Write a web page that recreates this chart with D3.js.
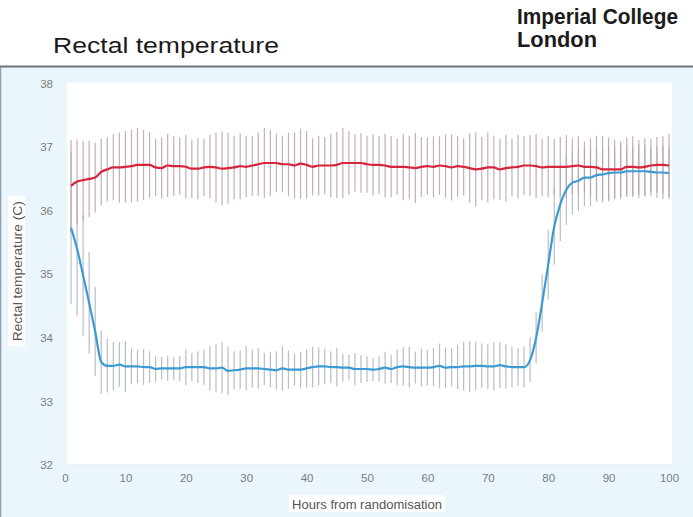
<!DOCTYPE html>
<html>
<head>
<meta charset="utf-8">
<script src="https://cdn.jsdelivr.net/npm/d3@7"></script>
<style>
  html, body { margin: 0; padding: 0; background: #fff; }
  svg { display: block; font-family: "Liberation Sans", Arial, sans-serif; }
</style>
</head>
<body>
<div id="chart"></div>
<script>
// hours after randomisation (one reading per hour)
const hours = d3.range(1, 101);

// normothermia group (red), mean rectal temperature
const normoMean = [
  36.39, 36.46, 36.48, 36.50, 36.52, 36.61, 36.65, 36.68, 36.68, 36.69,
  36.70, 36.72, 36.72, 36.72, 36.68, 36.67, 36.71, 36.70, 36.70, 36.69,
  36.66, 36.66, 36.68, 36.69, 36.68, 36.66, 36.67, 36.68, 36.70, 36.69,
  36.71, 36.73, 36.75, 36.75, 36.75, 36.73, 36.73, 36.71, 36.74, 36.72,
  36.69, 36.71, 36.71, 36.71, 36.72, 36.75, 36.75, 36.75, 36.75, 36.73,
  36.72, 36.72, 36.71, 36.69, 36.69, 36.69, 36.68, 36.67, 36.69, 36.70,
  36.69, 36.71, 36.70, 36.68, 36.70, 36.69, 36.67, 36.65, 36.66, 36.68,
  36.68, 36.65, 36.67, 36.68, 36.69, 36.71, 36.71, 36.70, 36.68, 36.69,
  36.69, 36.69, 36.69, 36.70, 36.71, 36.69, 36.69, 36.68, 36.65, 36.65,
  36.65, 36.65, 36.69, 36.69, 36.68, 36.69, 36.71, 36.72, 36.72, 36.71
];
const normoErr = [
  0.72, 0.66, 0.62, 0.60, 0.55, 0.52, 0.50, 0.52, 0.55, 0.56,
  0.57, 0.58, 0.55, 0.52, 0.45, 0.48, 0.50, 0.47, 0.45, 0.50,
  0.46, 0.48, 0.45, 0.50, 0.55, 0.58, 0.56, 0.50, 0.52, 0.48,
  0.47, 0.50, 0.55, 0.52, 0.46, 0.44, 0.50, 0.52, 0.55, 0.53,
  0.45, 0.47, 0.45, 0.50, 0.52, 0.55, 0.50, 0.45, 0.47, 0.45,
  0.48, 0.46, 0.50, 0.48, 0.44, 0.52, 0.50, 0.55, 0.47, 0.45,
  0.48, 0.46, 0.50, 0.52, 0.48, 0.45, 0.55, 0.58, 0.50, 0.55,
  0.50, 0.48, 0.52, 0.45, 0.50, 0.46, 0.48, 0.50, 0.45, 0.48,
  0.44, 0.47, 0.50, 0.44, 0.46, 0.40, 0.45, 0.50, 0.52, 0.50,
  0.47, 0.44, 0.46, 0.48, 0.43, 0.45, 0.42, 0.44, 0.45, 0.50
];

// hypothermia group (blue)
const hypoMean = [
  35.73, 35.40, 34.98, 34.55, 34.10, 33.62, 33.56, 33.56, 33.58, 33.55,
  33.55, 33.55, 33.54, 33.54, 33.51, 33.52, 33.52, 33.52, 33.52, 33.54,
  33.54, 33.54, 33.54, 33.52, 33.52, 33.53, 33.48, 33.49, 33.50, 33.52,
  33.52, 33.52, 33.51, 33.50, 33.49, 33.52, 33.50, 33.50, 33.50, 33.52,
  33.54, 33.55, 33.55, 33.54, 33.54, 33.53, 33.53, 33.51, 33.51, 33.51,
  33.50, 33.51, 33.53, 33.51, 33.54, 33.55, 33.54, 33.53, 33.53, 33.53,
  33.54, 33.56, 33.53, 33.54, 33.54, 33.55, 33.55, 33.56, 33.56, 33.55,
  33.55, 33.57, 33.55, 33.54, 33.54, 33.54, 33.65, 34.00, 34.55, 35.15,
  35.75, 36.10, 36.33, 36.44, 36.47, 36.52, 36.52, 36.56, 36.57, 36.59,
  36.60, 36.60, 36.62, 36.62, 36.62, 36.62, 36.61, 36.60, 36.60, 36.59
];
const hypoErr = [
  1.20, 1.05, 0.95, 0.80, 0.70, 0.50, 0.42, 0.38, 0.35, 0.40,
  0.28, 0.26, 0.28, 0.25, 0.20, 0.18, 0.20, 0.18, 0.20, 0.28,
  0.22, 0.25, 0.28, 0.35, 0.38, 0.40, 0.38, 0.30, 0.30, 0.35,
  0.30, 0.32, 0.25, 0.28, 0.30, 0.35, 0.30, 0.25, 0.28, 0.30,
  0.32, 0.30, 0.28, 0.25, 0.30, 0.22, 0.20, 0.25, 0.22, 0.20,
  0.18, 0.20, 0.25, 0.22, 0.28, 0.30, 0.32, 0.25, 0.30, 0.28,
  0.30, 0.35, 0.32, 0.30, 0.35, 0.38, 0.40, 0.38, 0.35, 0.35,
  0.38, 0.36, 0.35, 0.32, 0.30, 0.32, 0.35, 0.40, 0.45, 0.55,
  0.60, 0.58, 0.55, 0.50, 0.48, 0.45, 0.45, 0.42, 0.40, 0.42,
  0.40, 0.42, 0.40, 0.38, 0.42, 0.40, 0.38, 0.40, 0.42, 0.40
];

const xTicks = [0, 10, 20, 30, 40, 50, 60, 70, 80, 90, 100];
const yTicks = [32, 33, 34, 35, 36, 37, 38];

const W = 693, H = 517;

const svg = d3.select('#chart')
  .append('svg')
  .attr('width', W)
  .attr('height', H);

// page: white header, light blue slide body
svg.append('rect').attr('width', W).attr('height', H).attr('fill', '#eaf5fc');
svg.append('rect').attr('width', W).attr('height', 66).attr('fill', '#fff');
svg.append('line')
  .attr('x1', 0).attr('x2', W).attr('y1', 66.5).attr('y2', 66.5)
  .attr('stroke', '#6f7378').attr('stroke-width', 2);
svg.append('line')
  .attr('x1', 0.5).attr('x2', 0.5).attr('y1', 67).attr('y2', H)
  .attr('stroke', '#8aa0b0').attr('stroke-width', 1.5);

svg.append('text')
  .attr('x', 53).attr('y', 53)
  .attr('font-size', 22.5)
  .attr('fill', '#1a1a1a')
  .attr('textLength', 226)
  .attr('lengthAdjust', 'spacingAndGlyphs')
  .text('Rectal temperature');

// logo wordmark
svg.append('text')
  .attr('x', 517).attr('y', 23.5)
  .attr('font-size', 22)
  .attr('font-weight', 'bold')
  .attr('fill', '#1c1c1c')
  .attr('textLength', 161)
  .attr('lengthAdjust', 'spacingAndGlyphs')
  .text('Imperial College');
svg.append('text')
  .attr('x', 517).attr('y', 46.5)
  .attr('font-size', 22)
  .attr('font-weight', 'bold')
  .attr('fill', '#1c1c1c')
  .attr('textLength', 80)
  .attr('lengthAdjust', 'spacingAndGlyphs')
  .text('London');

const x = d3.scaleLinear().domain([0, 100]).range([65, 669]);
const y = d3.scaleLinear().domain([32, 38]).range([465, 83.5]);

// white plot area
svg.append('rect')
  .attr('x', x(0) + 2).attr('y', y(38) - 1)
  .attr('width', x(100) - x(0) + 1).attr('height', y(32) - y(38) + 1)
  .attr('fill', '#fff');

svg.append('line')
  .attr('x1', x(0) + 2).attr('x2', x(100) + 3)
  .attr('y1', y(32)).attr('y2', y(32))
  .attr('stroke', '#dfe8ee');

// axes
const xAxis = svg.append('g')
  .attr('transform', `translate(0,${y(32) + 9})`)
  .call(d3.axisBottom(x).tickValues(xTicks).tickSize(0).tickPadding(0).tickFormat(d3.format('d')));
const yAxis = svg.append('g')
  .attr('transform', `translate(${x(0) - 12},0)`)
  .call(d3.axisLeft(y).tickValues(yTicks).tickSize(0).tickPadding(0).tickFormat(d3.format('d')));
[xAxis, yAxis].forEach(g => {
  g.select('.domain').remove();
  g.selectAll('text')
    .attr('fill', '#7a7d80')
    .attr('font-size', 11.5)
    .attr('font-family', '"Liberation Sans", Arial, sans-serif');
});

// axis titles with white backing boxes
const xTitle = svg.append('g').attr('transform', `translate(${(x(0) + x(100)) / 2},505)`);
xTitle.append('rect').attr('x', -78).attr('y', -10).attr('width', 156).attr('height', 17).attr('fill', '#fff');
xTitle.append('text')
  .attr('text-anchor', 'middle').attr('y', 4)
  .attr('font-size', 12).attr('fill', '#555')
  .attr('textLength', 150)
  .attr('lengthAdjust', 'spacingAndGlyphs')
  .text('Hours from randomisation');

const yTitle = svg.append('g').attr('transform', `translate(18,${y(35) - 3}) rotate(-90)`);
yTitle.append('rect').attr('x', -75).attr('y', -10).attr('width', 150).attr('height', 17).attr('fill', '#fff');
yTitle.append('text')
  .attr('text-anchor', 'middle').attr('y', 4)
  .attr('font-size', 12).attr('fill', '#555')
  .attr('textLength', 140)
  .attr('lengthAdjust', 'spacingAndGlyphs')
  .text('Rectal temperature (C)');

const series = [
  { mean: hypoMean, err: hypoErr, line: '#3b9ad2', bar: '#a9b4bc' },
  { mean: normoMean, err: normoErr, line: '#d5243b', bar: '#bba1a8' }
];

series.forEach(s => {
  svg.append('g')
    .attr('stroke', s.bar)
    .attr('stroke-width', 1.2)
    .attr('opacity', 0.85)
    .selectAll('line')
    .data(hours)
    .join('line')
    .attr('x1', d => x(d)).attr('x2', d => x(d))
    .attr('y1', (d, i) => y(s.mean[i] + s.err[i]))
    .attr('y2', (d, i) => y(s.mean[i] - s.err[i]));
});

const line = mean => d3.line()
  .x(d => x(d))
  .y((d, i) => y(mean[i]))
  .curve(d3.curveMonotoneX)(hours);

series.forEach(s => {
  svg.append('path')
    .attr('d', line(s.mean))
    .attr('fill', 'none')
    .attr('stroke', s.line)
    .attr('stroke-width', 2.2)
    .attr('stroke-linejoin', 'round');
});
</script>
</body>
</html>
